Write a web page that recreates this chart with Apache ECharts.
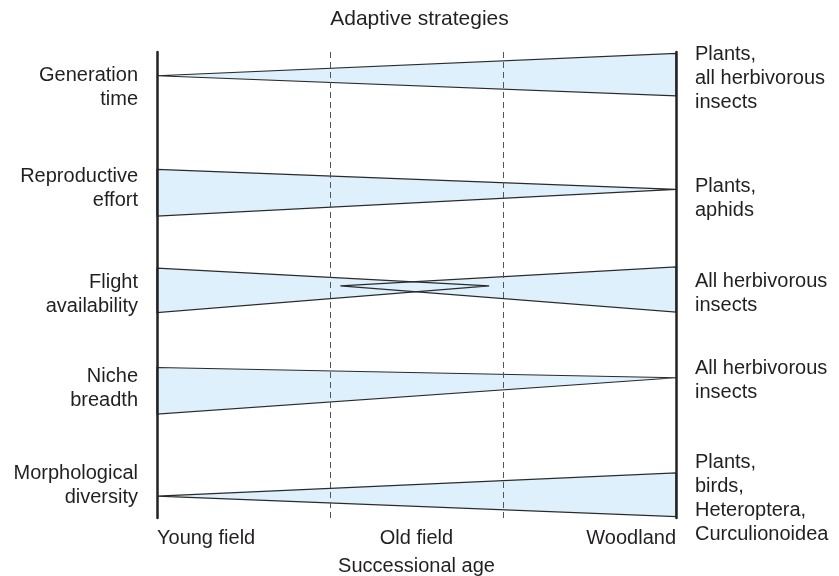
<!DOCTYPE html>
<html>
<head>
<meta charset="utf-8">
<script src="https://cdn.jsdelivr.net/npm/echarts@6/dist/echarts.min.js"></script>
<style>
  html, body { margin: 0; padding: 0; background: #fff; }
  #chart { width: 839px; height: 576px; }
</style>
</head>
<body>
<div id="chart"></div>
<script>
// x: 0 = young field, 3 = woodland ; y: 0 (top) .. 10 (bottom)
var stageLabels = { 0: 'Young field', 1.5: 'Old field', 3: 'Woodland' };
var dashedAt = [1, 2];

// one wedge per entry: start x / top / bottom, end x / top / bottom
var wedgeStartX = [0, 0, 0, 1.06, 0, 0];
var wedgeStartTop = [0.51, 2.52, 4.64, 5.02, 6.77, 9.53];
var wedgeStartBottom = [0.51, 3.52, 5.59, 5.02, 7.77, 9.53];
var wedgeEndX = [3, 3, 1.92, 3, 3, 3];
var wedgeEndTop = [0.03, 2.95, 5.02, 4.61, 6.99, 9.03];
var wedgeEndBottom = [0.94, 2.95, 5.02, 5.58, 6.99, 9.97];

var traitNames = ['Generation\ntime', 'Reproductive\neffort', 'Flight\navailability', 'Niche\nbreadth', 'Morphological\ndiversity'];
var traitY = [0.76, 2.92, 5.21, 7.23, 9.31];
var groupNames = ['Plants,\nall herbivorous\ninsects', 'Plants,\naphids', 'All herbivorous\ninsects', 'All herbivorous\ninsects', 'Plants,\nbirds,\nHeteroptera,\nCurculionoidea'];
var groupY = [0.57, 3.15, 5.18, 7.04, 9.58];

var wedges = wedgeStartX.map(function (x0, i) {
  return [x0, wedgeStartTop[i], wedgeStartBottom[i], wedgeEndX[i], wedgeEndTop[i], wedgeEndBottom[i]];
});

function wedgeShape(api) {
  var a = api.coord([api.value(0), api.value(1)]);
  var b = api.coord([api.value(3), api.value(4)]);
  var c = api.coord([api.value(3), api.value(5)]);
  var d = api.coord([api.value(0), api.value(2)]);
  return { points: [a, b, c, d] };
}

var font = 'Liberation Sans, Arial, sans-serif';
var ink = '#231f20';

var chart = echarts.init(document.getElementById('chart'));
chart.setOption({
  animation: false,
  textStyle: { fontFamily: font, color: ink },
  title: {
    text: 'Adaptive strategies',
    left: 'center',
    top: 4,
    textStyle: { fontSize: 21, fontWeight: 'normal', color: ink, fontFamily: font }
  },
  grid: { left: 157, right: 163, top: 52, bottom: 58, outerBoundsMode: 'none', containLabel: false },
  xAxis: {
    type: 'value',
    min: 0,
    max: 3,
    interval: 1.5,
    axisLine: { show: false },
    axisTick: { show: false },
    splitLine: { show: false },
    axisLabel: {
      margin: 10,
      fontSize: 20,
      color: ink,
      alignMinLabel: 'left',
      alignMaxLabel: 'right',
      formatter: function (v) { return stageLabels[v] || ''; }
    },
    name: 'Successional age',
    nameLocation: 'middle',
    nameGap: 38,
    nameTextStyle: { fontSize: 20, color: ink }
  },
  yAxis: [
    {
      type: 'value', min: 0, max: 10, inverse: true, position: 'left', z: 10,
      axisLine: { show: true, lineStyle: { color: '#222', width: 2.5 } },
      axisTick: { show: false }, axisLabel: { show: false }, splitLine: { show: false }
    },
    {
      type: 'value', min: 0, max: 10, inverse: true, position: 'right', z: 10,
      axisLine: { show: true, lineStyle: { color: '#222', width: 2.5 } },
      axisTick: { show: false }, axisLabel: { show: false }, splitLine: { show: false }
    }
  ],
  series: [
    {
      type: 'custom',
      name: 'fill',
      data: wedges,
      renderItem: function (params, api) {
        return { type: 'polygon', shape: wedgeShape(api), style: { fill: '#ddf0fb', stroke: null } };
      },
      markLine: {
        silent: true,
        symbol: 'none',
        label: { show: false },
        lineStyle: { color: '#555', width: 1, type: [6, 4] },
        data: dashedAt.map(function (x) { return { xAxis: x }; })
      }
    },
    {
      type: 'custom',
      name: 'outline',
      data: wedges,
      renderItem: function (params, api) {
        return { type: 'polygon', shape: wedgeShape(api), style: { fill: 'none', stroke: '#2a2a2a', lineWidth: 1.2 } };
      }
    },
    {
      type: 'scatter',
      symbolSize: 0,
      itemStyle: { opacity: 1 },
      data: traitY.map(function (y, i) { return [0, y, traitNames[i]]; }),
      label: {
        show: true,
        position: 'left',
        distance: 19,
        align: 'right',
        fontSize: 20,
        lineHeight: 24,
        color: ink,
        formatter: function (p) { return p.value[2]; }
      }
    },
    {
      type: 'scatter',
      symbolSize: 0,
      itemStyle: { opacity: 1 },
      data: groupY.map(function (y, i) { return [3, y, groupNames[i]]; }),
      label: {
        show: true,
        position: 'right',
        distance: 19,
        align: 'left',
        fontSize: 20,
        lineHeight: 24,
        color: ink,
        formatter: function (p) { return p.value[2]; }
      }
    }
  ]
});
window.addEventListener('resize', function () { chart.resize(); });
</script>
</body>
</html>
